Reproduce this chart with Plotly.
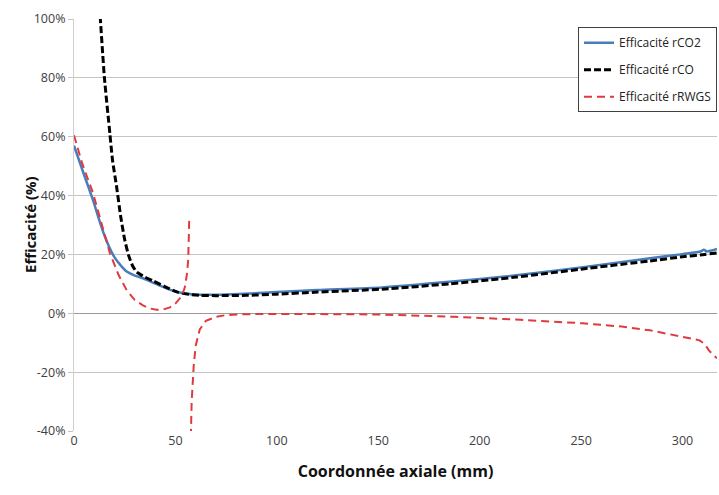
import plotly.graph_objects as go

# Efficacité rCO2
x_co2 = [0, 5, 9.4, 13, 15, 17.7, 20, 23, 26, 30, 34, 42, 50, 58, 65, 75, 87, 100, 120, 152, 185, 218, 250, 284, 300, 309, 310.5, 312, 314, 317]
y_co2 = [57, 47, 38.4, 30.5, 26.5, 22, 19, 16.3, 14.2, 12.8, 11.9, 9.5, 7.4, 6.5, 6.3, 6.4, 6.7, 7.2, 7.9, 8.8, 10.7, 12.9, 15.6, 18.7, 20.1, 21.0, 21.6, 21.0, 21.3, 21.9]

# Efficacité rCO
x_co = [12.9, 15, 17.7, 19, 21, 23, 25, 27, 29, 31, 35, 39, 45, 51, 57, 62, 70, 85, 100, 120, 152, 185, 218, 250, 284, 300, 311, 317]
y_co = [101, 80, 61, 52, 43, 33, 25, 19.5, 16, 14, 12.3, 11.0, 9.0, 7.2, 6.4, 6.1, 6.0, 6.1, 6.5, 7.2, 8.2, 10.0, 12.3, 15.0, 17.8, 19.2, 20.0, 20.5]

# Efficacité rRWGS (two branches, separated by a gap)
x_rwgs_1 = [0, 4, 9.4, 13, 17.7, 22, 26, 30, 34, 37, 40.7, 44, 47.3, 50, 52.2, 54, 54.7, 55.6, 56.3, 56.8]
y_rwgs_1 = [60.5, 51, 40.8, 32, 20.4, 13, 7.8, 4.5, 2.7, 1.7, 1.2, 1.3, 2.0, 3.3, 5.1, 7.5, 9, 13, 18, 31.6]
x_rwgs_2 = [57.6, 58, 59, 60, 62, 65, 70, 75, 85, 100, 150, 188, 220, 250.8, 270, 284, 300, 308.4, 311, 313, 315, 317]
y_rwgs_2 = [-42, -30, -18, -11, -5.5, -2.6, -1.2, -0.6, -0.3, -0.2, -0.4, -1.2, -2.2, -3.4, -4.5, -5.8, -8, -9.2, -10.5, -12.6, -14, -15.3]

y_ticks = [-40, -20, 0, 20, 40, 60, 80, 100]
y_tick_labels = ["-40%", "-20%", "0%", "20%", "40%", "60%", "80%", "100%"]
x_ticks = [0, 50, 100, 150, 200, 250, 300]

FONT = "Open Sans"

fig = go.Figure()
fig.add_trace(go.Scatter(x=x_co2, y=y_co2, mode="lines", name="Efficacité rCO2", legendgroup="a",
                         line=dict(color="#4a7ebb", width=2.5, shape="spline", smoothing=0.6)))
fig.add_trace(go.Scatter(x=x_co, y=y_co, mode="lines", name="Efficacité rCO", legendgroup="b",
                         line=dict(color="#000000", width=3, dash="7px,3px", shape="spline", smoothing=0.6)))
fig.add_trace(go.Scatter(x=x_rwgs_1 + [None] + x_rwgs_2, y=y_rwgs_1 + [None] + y_rwgs_2,
                         mode="lines", name="Efficacité rRWGS", connectgaps=False, legendgroup="c",
                         line=dict(color="#e0393e", width=2, dash="8px,5px")))

fig.update_layout(
    width=719, height=495,
    margin=dict(l=74, r=2, t=19, b=64),
    paper_bgcolor="white", plot_bgcolor="white",
    font=dict(family=FONT, size=12.5, color="#404040"),
    legend=dict(x=1.0, y=0.98, xanchor="right", yanchor="top",
                bordercolor="#404040", borderwidth=1, bgcolor="white",
                font=dict(family=FONT, size=12, color="#222"),
                tracegroupgap=8),
    xaxis=dict(range=[0, 317], tickvals=x_ticks, showgrid=False, automargin=False,
               showline=False, zeroline=False, ticks="",
               title=dict(text="<b>Coordonnée axiale (mm)</b>", font=dict(family=FONT, size=16, color="#111"), standoff=18)),
    yaxis=dict(range=[-40, 100], tickvals=y_ticks, ticktext=y_tick_labels, automargin=False,
               showgrid=True, gridcolor="#c4c4c4", gridwidth=1,
               zeroline=True, zerolinecolor="#9a9a9a", zerolinewidth=1,
               showline=True, linecolor="#d0d0d0", ticks="outside", ticklen=5, tickcolor="#c4c4c4"),
    annotations=[dict(text="<b>Efficacité (%)</b>", textangle=-90, xref="paper", yref="paper",
                      x=-0.0684, y=0.5, xanchor="center", yanchor="middle", showarrow=False,
                      font=dict(family=FONT, size=15, color="#111"))],
)

fig.write_html("out.html", config={"displayModeBar": False},
               post_script="document.body.style.margin='0px';document.body.style.padding='0px';")
